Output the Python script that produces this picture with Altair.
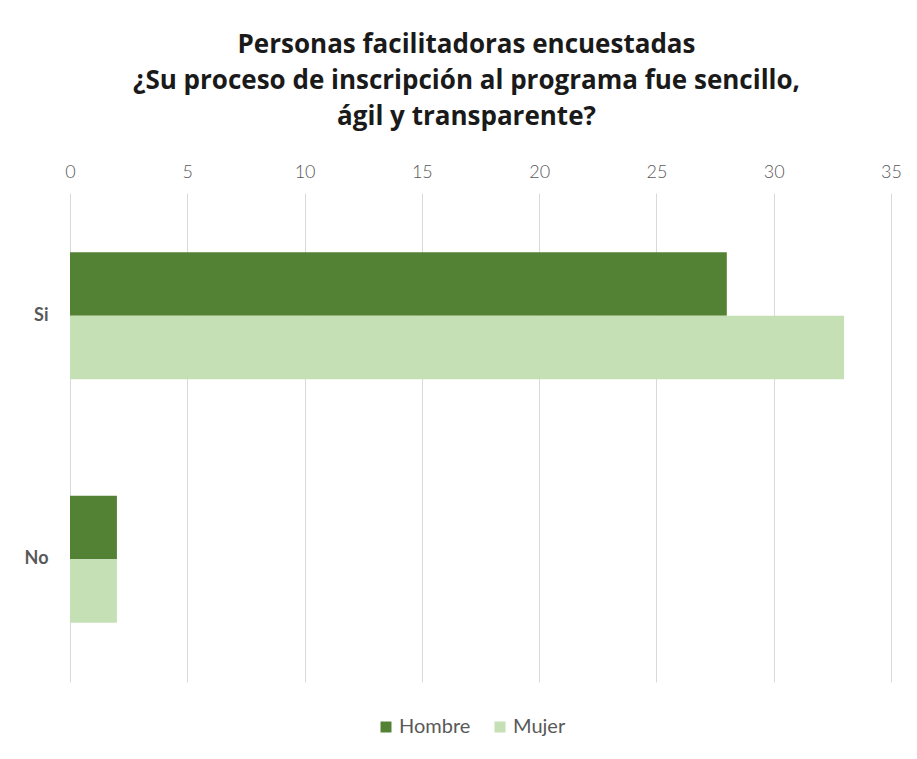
import altair as alt
import pandas as pd

categories = ["Si", "Si", "No", "No"]
sexes = ["Hombre", "Mujer", "Hombre", "Mujer"]
values = [28, 33, 2, 2]
tick_values = [0, 5, 10, 15, 20, 25, 30, 35]

df = pd.DataFrame({"respuesta": categories, "sexo": sexes, "valor": values})

FONT = "Lato"
GRAY = "#595959"

chart = (
    alt.Chart(df)
    .mark_bar()
    .encode(
        x=alt.X(
            "valor:Q",
            scale=alt.Scale(domain=[0, 35], nice=False),
            axis=alt.Axis(
                orient="top",
                values=tick_values,
                title=None,
                domain=False,
                ticks=False,
                tickSize=0,
                labelPadding=12,
                labelFontSize=18,
                labelFontWeight=300,
                labelColor=GRAY,
                labelFont=FONT,
                labelFlush=False,
                grid=True,
                gridColor="#D9D9D9",
                gridWidth=1,
            ),
        ),
        y=alt.Y(
            "respuesta:N",
            sort=["Si", "No"],
            scale=alt.Scale(paddingInner=0.478, paddingOuter=0.243),
            axis=alt.Axis(
                title=None,
                domain=False,
                ticks=False,
                labelPadding=22,
                labelFontSize=18,
                labelFontWeight="bold",
                labelColor=GRAY,
                labelFont=FONT,
                grid=False,
            ),
        ),
        yOffset=alt.YOffset(
            "sexo:N",
            sort=["Hombre", "Mujer"],
            scale=alt.Scale(paddingInner=0, paddingOuter=0),
        ),
        color=alt.Color(
            "sexo:N",
            sort=["Hombre", "Mujer"],
            scale=alt.Scale(domain=["Hombre", "Mujer"], range=["#548235", "#C5E0B4"]),
            legend=alt.Legend(
                title=None,
                orient="none",
                direction="horizontal",
                legendX=306,
                legendY=524,
                symbolType="square",
                symbolSize=121,
                symbolStrokeWidth=0,
                labelFontSize=20,
                labelFont=FONT,
                labelColor=GRAY,
                labelOffset=3,
                columnPadding=19,
                padding=0,
            ),
        ),
    )
    .properties(
        width=821,
        height=489,
        autosize=alt.AutoSizeParams(type="none"),
        padding={"left": 62, "top": 185, "right": 18, "bottom": 58},
        title=alt.TitleParams(
            text=[
                "Personas facilitadoras encuestadas",
                "¿Su proceso de inscripción al programa fue sencillo,",
                "ágil y transparente?",
            ],
            font="Open Sans",
            fontSize=26,
            fontWeight="bold",
            color="#1a1a1a",
            lineHeight=36,
            anchor="middle",
            dx=-14,
            offset=33,
        ),
    )
    .configure_view(stroke=None)
)

chart.save("out.html", embed_options={"renderer": "svg", "actions": False})
